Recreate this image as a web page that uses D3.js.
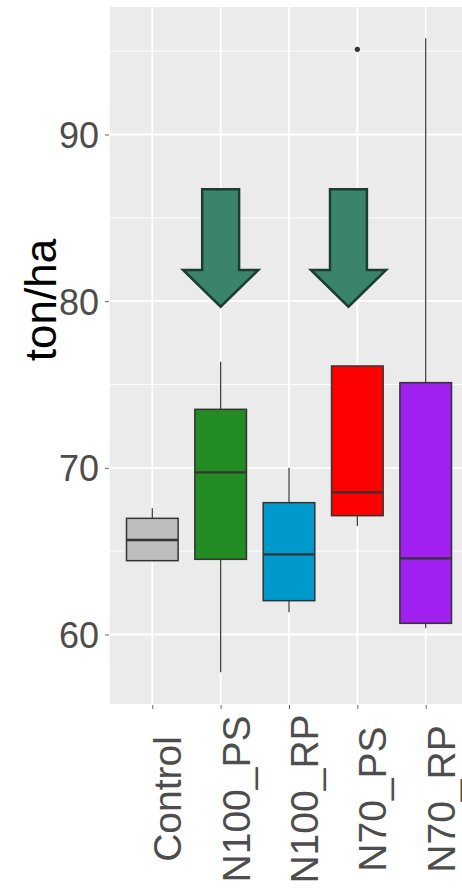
<!DOCTYPE html>
<html><head><meta charset="utf-8">
<script src="https://cdn.jsdelivr.net/npm/d3@7"></script>
<style>html,body{margin:0;padding:0;background:#fff;}svg{display:block;}</style>
</head><body>
<svg id="chart" width="462" height="889"></svg>
<script>
const categories = ["Control","N100_PS","N100_RP","N70_PS","N70_RP"];
const lowerWhisker = [64.43, 57.73, 61.33, 66.51, 60.37];
const q1 = [64.43, 64.51, 62.03, 67.13, 60.67];
const median = [65.67, 69.73, 64.81, 68.53, 64.57];
const q3 = [66.97, 73.51, 67.91, 76.11, 75.11];
const upperWhisker = [67.57, 76.37, 70.0, 76.11, 95.77];
const fills = ["#BEBEBE","#228B22","#0099CC","#FF0000","#A020F0"];
const outlierCategory = ["N70_PS"];
const outlierValue = [95.11];
const yTicks = [60, 70, 80, 90];
const yMinor = [65, 75, 85, 95];
const arrowCategory = ["N100_PS","N70_PS"];
const arrowOffset = [0, -0.13];
const arrowTop = 86.71, arrowShoulder = 81.87, arrowTip = 79.67;

const svg = d3.select("#chart");
const panel = {left:110, right:475, top:7, bottom:704};

const x = d3.scalePoint().domain(categories).range([152.3, 425.7]);
const step = x.step();
const y = d3.scaleLinear().domain([60, 90]).range([634.5, 134.5]);

svg.append("rect").attr("x",panel.left).attr("y",panel.top)
  .attr("width",panel.right-panel.left).attr("height",panel.bottom-panel.top)
  .attr("fill","#EBEBEB");

// minor grid
svg.selectAll(".minor").data(yMinor).enter().append("line")
  .attr("x1",panel.left).attr("x2",panel.right)
  .attr("y1",d=>y(d)).attr("y2",d=>y(d))
  .attr("stroke","#fff").attr("stroke-width",0.9);
// major grid
svg.selectAll(".major").data(yTicks).enter().append("line")
  .attr("x1",panel.left).attr("x2",panel.right)
  .attr("y1",d=>y(d)).attr("y2",d=>y(d))
  .attr("stroke","#fff").attr("stroke-width",1.8);
svg.selectAll(".vgrid").data(categories).enter().append("line")
  .attr("x1",d=>x(d)).attr("x2",d=>x(d))
  .attr("y1",panel.top).attr("y2",panel.bottom)
  .attr("stroke","#fff").attr("stroke-width",1.8);

// axes
const yAxis = d3.axisLeft(y).tickValues(yTicks).tickSize(4).tickPadding(6);
const gy = svg.append("g").attr("transform",`translate(${panel.left-1},0)`).call(yAxis);
gy.select(".domain").remove();
gy.selectAll(".tick line").attr("stroke","#666").attr("stroke-width",1);
gy.selectAll(".tick text").attr("fill","#4D4D4D")
  .style("font-family","Liberation Sans, Arial, sans-serif").style("font-size","36px")
  .attr("dy","0.36em");

const xAxis = d3.axisBottom(x).tickSize(4).tickFormat("");
const gx = svg.append("g").attr("transform",`translate(0,${panel.bottom+1})`).call(xAxis);
gx.select(".domain").remove();
gx.selectAll(".tick line").attr("stroke","#666").attr("stroke-width",1);

svg.selectAll(".xlab").data(categories).enter().append("text")
  .attr("transform",d=>`translate(${x(d)+29},799) rotate(-90)`)
  .attr("text-anchor","middle")
  .attr("fill","#4D4D4D")
  .style("font-family","Liberation Sans, Arial, sans-serif").style("font-size","39px")
  .text(d=>d);

svg.append("text")
  .attr("transform","translate(56,300) rotate(-90)")
  .attr("text-anchor","middle")
  .attr("fill","#000")
  .style("font-family","Liberation Sans, Arial, sans-serif").style("font-size","44px")
  .text("ton/ha");

// boxes
const bw = step*0.755;
const g = svg.append("g");
categories.forEach((c,i)=>{
  const cx = x(c);
  g.append("line").attr("x1",cx).attr("x2",cx).attr("y1",y(upperWhisker[i])).attr("y2",y(q3[i]))
    .attr("stroke","#333").attr("stroke-width",1.2);
  g.append("line").attr("x1",cx).attr("x2",cx).attr("y1",y(q1[i])).attr("y2",y(lowerWhisker[i]))
    .attr("stroke","#333").attr("stroke-width",1.2);
  g.append("rect").attr("x",cx-bw/2).attr("y",y(q3[i])).attr("width",bw)
    .attr("height",y(q1[i])-y(q3[i])).attr("fill",fills[i])
    .attr("stroke","#333").attr("stroke-width",1.5);
  g.append("line").attr("x1",cx-bw/2).attr("x2",cx+bw/2).attr("y1",y(median[i])).attr("y2",y(median[i]))
    .attr("stroke","#333").attr("stroke-width",2.4);
});
outlierCategory.forEach((c,i)=>{
  g.append("circle").attr("cx",x(c)).attr("cy",y(outlierValue[i])).attr("r",2.6).attr("fill","#333");
});

// arrows
arrowCategory.forEach((c,i)=>{
  const cx = x(c) + arrowOffset[i]*step;
  const sw = 0.27*step, hw = 0.55*step;
  const pts = [
    [cx-sw, y(arrowTop)],[cx+sw, y(arrowTop)],[cx+sw, y(arrowShoulder)],
    [cx+hw, y(arrowShoulder)],[cx, y(arrowTip)],[cx-hw, y(arrowShoulder)],
    [cx-sw, y(arrowShoulder)]
  ];
  svg.append("path").attr("d", d3.line()(pts)+"Z")
    .attr("fill","#3A8569").attr("stroke","#1B3D2F").attr("stroke-width",2.5)
    .attr("stroke-linejoin","miter");
});
</script>
</body></html>
